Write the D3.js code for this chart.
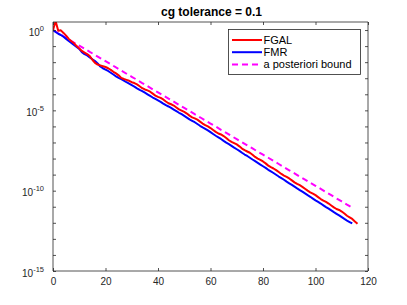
<!DOCTYPE html>
<html><head><meta charset="utf-8">
<script src="https://cdn.jsdelivr.net/npm/d3@7/dist/d3.min.js"></script>
<style>body{margin:0;background:#fff}svg{display:block;font-family:"Liberation Sans",Arial,sans-serif}</style>
</head><body><div id="chart"></div>
<script>
const titleText = "cg tolerance = 0.1";
const seriesNames = ["FGAL", "FMR", "a posteriori bound"];
// log10 of residual, iteration index = array position
const fgalLog = [0.00,0.55,-0.05,-0.02,-0.18,-0.35,-0.55,-0.70,-0.82,-1.00,
-1.15,-1.30,-1.40,-1.50,-1.62,-1.85,-2.05,-2.15,-2.20,-2.25,
-2.30,-2.38,-2.48,-2.60,-2.70,-2.82,-2.98,-3.05,-3.10,-3.16,
-3.25,-3.30,-3.38,-3.50,-3.62,-3.70,-3.76,-3.84,-3.96,-4.08,
-4.16,-4.22,-4.32,-4.45,-4.56,-4.62,-4.70,-4.82,-4.94,-5.02,
-5.10,-5.20,-5.33,-5.44,-5.50,-5.58,-5.70,-5.82,-5.92,-6.00,
-6.10,-6.22,-6.34,-6.44,-6.50,-6.60,-6.72,-6.86,-6.96,-7.04,
-7.12,-7.24,-7.38,-7.48,-7.56,-7.64,-7.76,-7.90,-8.00,-8.08,
-8.18,-8.30,-8.44,-8.54,-8.62,-8.72,-8.84,-8.96,-9.06,-9.14,
-9.24,-9.36,-9.48,-9.58,-9.66,-9.76,-9.88,-10.00,-10.10,-10.18,
-10.28,-10.40,-10.52,-10.62,-10.70,-10.80,-10.92,-11.04,-11.14,-11.20,
-11.30,-11.42,-11.56,-11.66,-11.76,-11.92,-12.06];
const fmrLog = [0.00,-0.12,-0.23,-0.31,-0.42,-0.55,-0.68,-0.80,-0.93,-1.05,
-1.17,-1.38,-1.50,-1.58,-1.70,-1.82,-1.93,-2.08,-2.27,-2.38,
-2.46,-2.55,-2.66,-2.77,-2.88,-2.98,-3.06,-3.15,-3.25,-3.34,
-3.43,-3.52,-3.63,-3.72,-3.80,-3.90,-4.00,-4.10,-4.20,-4.29,
-4.38,-4.47,-4.58,-4.68,-4.76,-4.85,-4.95,-5.05,-5.15,-5.24,
-5.34,-5.45,-5.56,-5.65,-5.74,-5.85,-5.96,-6.06,-6.15,-6.25,
-6.36,-6.47,-6.58,-6.68,-6.78,-6.90,-7.01,-7.10,-7.21,-7.32,
-7.42,-7.52,-7.64,-7.75,-7.84,-7.95,-8.06,-8.16,-8.27,-8.38,
-8.48,-8.58,-8.70,-8.80,-8.90,-9.01,-9.12,-9.22,-9.32,-9.44,
-9.54,-9.64,-9.75,-9.86,-9.96,-10.06,-10.17,-10.28,-10.38,-10.49,
-10.60,-10.70,-10.80,-10.91,-11.02,-11.12,-11.23,-11.34,-11.44,-11.54,
-11.65,-11.76,-11.86,-11.95,-12.04];
// bound sampled every 2 iterations
const boundIter = [0,2,4,6,8,10,12,14,16,18,20,22,24,26,28,30,32,34,36,38,40,42,44,46,48,50,52,54,56,58,60,62,64,66,68,70,72,74,76,78,80,82,84,86,88,90,92,94,96,98,100,102,104,106,108,110,112,114];
const boundLog = [0.00,-0.19,-0.39,-0.58,-0.78,-0.97,-1.16,-1.36,-1.55,-1.75,
-1.94,-2.13,-2.33,-2.52,-2.72,-2.91,-3.10,-3.30,-3.49,-3.69,
-3.88,-4.07,-4.27,-4.46,-4.66,-4.85,-5.04,-5.24,-5.43,-5.63,
-5.82,-6.01,-6.21,-6.40,-6.60,-6.79,-6.98,-7.18,-7.37,-7.57,
-7.76,-7.95,-8.15,-8.34,-8.54,-8.73,-8.92,-9.12,-9.31,-9.51,
-9.70,-9.89,-10.09,-10.28,-10.48,-10.67,-10.87,-11.06];
const xTicks = [0,20,40,60,80,100,120];
const yLabelExps = [0,-5,-10,-15];
const yMinorExps = [0,-1,-2,-3,-4,-5,-6,-7,-8,-9,-10,-11,-12,-13,-14,-15];

const W = 407, H = 305;
const L = 53, R = 368, T = 22, B = 271;
const axisColor = "#262626";
const svg = d3.select("#chart").append("svg").attr("width", W).attr("height", H);
const x = d3.scaleLinear().domain([0,120]).range([L,R]);
const y = d3.scaleLog().domain([1e-15, Math.pow(10,0.5)]).range([B,T]);

svg.append("defs").append("clipPath").attr("id","clip")
  .append("rect").attr("x",L).attr("y",T).attr("width",R-L).attr("height",B-T);

const toPts = (arr) => arr.map((v,i)=>[i, Math.pow(10,v)]);
const line = d3.line().x(d=>x(d[0])).y(d=>y(d[1]));
const g = svg.append("g").attr("clip-path","url(#clip)");
g.append("path").datum(boundIter.map((it,i)=>[it, Math.pow(10,boundLog[i])]))
  .attr("d",line).attr("fill","none").attr("stroke","#ff00ff").attr("stroke-width",2).attr("stroke-dasharray","6,4");
g.append("path").datum(toPts(fmrLog)).attr("d",line).attr("fill","none").attr("stroke","#0000ff").attr("stroke-width",2).attr("stroke-linejoin","round");
g.append("path").datum(toPts(fgalLog)).attr("d",line).attr("fill","none").attr("stroke","#ff0000").attr("stroke-width",2).attr("stroke-linejoin","round");

// axes box
const tl = 3;
const axB = d3.axisBottom(x).tickValues(xTicks).tickSize(-tl).tickPadding(7).tickFormat(d3.format("d"));
const ga = svg.append("g").attr("transform",`translate(0,${B})`).call(axB);
const axT = d3.axisTop(x).tickValues(xTicks).tickSize(-tl).tickFormat("");
const gt = svg.append("g").attr("transform",`translate(0,${T})`).call(axT);
const yTickVals = yMinorExps.map(e=>Math.pow(10,e));
const axL = d3.axisLeft(y).tickValues(yTickVals).tickSize(-tl).tickFormat("");
const gl = svg.append("g").attr("transform",`translate(${L},0)`).call(axL);
const axR = d3.axisRight(y).tickValues(yTickVals).tickSize(-tl).tickFormat("");
const gr = svg.append("g").attr("transform",`translate(${R},0)`).call(axR);
[ga,gt,gl,gr].forEach(a=>{
  a.select(".domain").attr("stroke",axisColor).attr("stroke-width",0.8);
  a.selectAll(".tick line").attr("stroke",axisColor).attr("stroke-width",0.8);
});
gt.select(".domain").attr("d",`M${L},0H${R}`);
ga.select(".domain").attr("d",`M${L},0H${R}`);
gl.select(".domain").attr("d",`M0,${T}V${B}`);
gr.select(".domain").attr("d",`M0,${T}V${B}`);
ga.selectAll(".tick text").attr("fill",axisColor).attr("font-size",10).attr("font-family","Liberation Sans, Arial, sans-serif");

// y labels 10^e
yLabelExps.forEach(e=>{
  const t = svg.append("text").attr("x",44).attr("y",y(Math.pow(10,e))+5.5)
    .attr("text-anchor","end").attr("fill",axisColor).attr("font-size",10);
  t.append("tspan").text("10");
  t.append("tspan").attr("dy",-5).attr("font-size",7.5).text(String(e));
});

// title
svg.append("text").attr("x",(L+R)/2+1).attr("y",16).attr("text-anchor","middle")
  .attr("font-weight","bold").attr("font-size",12).attr("fill","#000").text(titleText);

// legend
const lg = svg.append("g");
lg.append("rect").attr("x",228.5).attr("y",29.5).attr("width",132).attr("height",45)
  .attr("fill","#fff").attr("stroke",axisColor).attr("stroke-width",0.8);
const colors = ["#ff0000","#0000ff","#ff00ff"];
const dashes = [null,null,"6,4"];
seriesNames.forEach((n,i)=>{
  const yy = 40 + i*12.2;
  lg.append("line").attr("x1",232).attr("x2",262).attr("y1",yy).attr("y2",yy)
    .attr("stroke",colors[i]).attr("stroke-width",2).attr("stroke-dasharray",dashes[i]);
  lg.append("text").attr("x",263.5).attr("y",yy+4).attr("font-size",11).attr("fill","#000").text(n);
});
</script></body></html>
